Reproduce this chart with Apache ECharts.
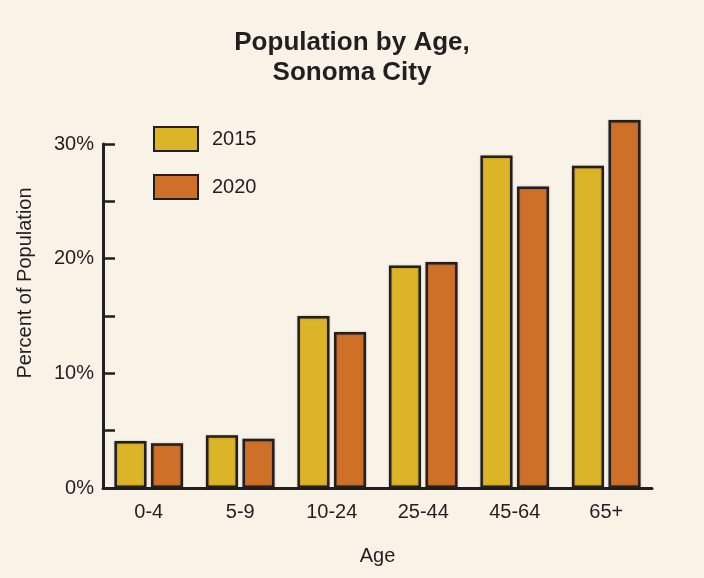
<!DOCTYPE html>
<html>
<head>
<meta charset="utf-8">
<script src="https://cdn.jsdelivr.net/npm/echarts@6/dist/echarts.min.js"></script>
<style>
  html, body { margin: 0; padding: 0; background: #f8f2e7; }
  #chart { width: 704px; height: 578px; }
</style>
</head>
<body>
<div id="chart"></div>
<script>
// Age groups and share of population (%) for each survey year
const ageGroups = ['0-4', '5-9', '10-24', '25-44', '45-64', '65+'];
const share2015 = [4.1, 4.6, 15.0, 19.4, 29.0, 28.1];
const share2020 = [3.9, 4.3, 13.6, 19.7, 26.3, 32.1];
const seriesNames = ['2015', '2020'];

const ink = '#231f20';
const font = 'Liberation Sans, Arial, Helvetica, sans-serif';

const chart = echarts.init(document.getElementById('chart'), null, { renderer: 'canvas' });

function barSeries(name, values, color) {
  return {
    name: name,
    type: 'bar',
    data: values,
    clip: false,
    barGap: '14%',
    barCategoryGap: '25%',
    itemStyle: {
      color: color,
      borderColor: ink,
      borderWidth: 2.5,
      shadowColor: 'rgba(0,0,0,0.25)',
      shadowBlur: 2
    }
  };
}

chart.setOption({
  backgroundColor: '#f8f2e7',
  animation: false,
  textStyle: { fontFamily: font, color: ink },
  title: {
    text: 'Population by Age,\nSonoma City',
    left: 'center',
    top: 23,
    textStyle: {
      fontFamily: font,
      fontSize: 26,
      fontWeight: 'bold',
      lineHeight: 30,
      color: ink
    }
  },
  legend: {
    orient: 'vertical',
    left: 153,
    top: 126,
    padding: 0,
    itemWidth: 44,
    itemHeight: 24,
    itemGap: 22,
    icon: 'rect',
    data: seriesNames,
    textStyle: {
      fontFamily: font,
      fontSize: 20,
      color: ink,
      padding: [0, 0, 0, 9]
    }
  },
  grid: {
    left: 103,
    right: 52,
    top: 144,
    bottom: 90
  },
  xAxis: {
    type: 'category',
    data: ageGroups,
    name: 'Age',
    nameLocation: 'middle',
    nameGap: 58,
    nameTextStyle: { fontFamily: font, fontSize: 20, color: ink },
    axisLine: { lineStyle: { color: ink, width: 3 } },
    axisTick: { inside: true, length: 8, lineStyle: { color: ink, width: 2.5 } },
    axisLabel: { fontFamily: font, fontSize: 20, color: ink, margin: 14 }
  },
  yAxis: {
    type: 'value',
    min: 0,
    max: 30,
    interval: 5,
    name: 'Percent of Population',
    nameLocation: 'middle',
    nameGap: 68,
    nameTextStyle: { fontFamily: font, fontSize: 20, color: ink, padding: [0, 0, 0, 66] },
    axisLine: { show: true, lineStyle: { color: ink, width: 3 } },
    axisTick: { show: true, inside: true, length: 12, lineStyle: { color: ink, width: 2.5 } },
    splitLine: { show: false },
    axisLabel: {
      fontFamily: font,
      fontSize: 20,
      color: ink,
      margin: 9,
      formatter: v => (v % 10 === 0 ? v + '%' : '')
    }
  },
  series: [
    barSeries(seriesNames[0], share2015, '#dcb428'),
    barSeries(seriesNames[1], share2020, '#cf7029')
  ]
});
</script>
</body>
</html>
